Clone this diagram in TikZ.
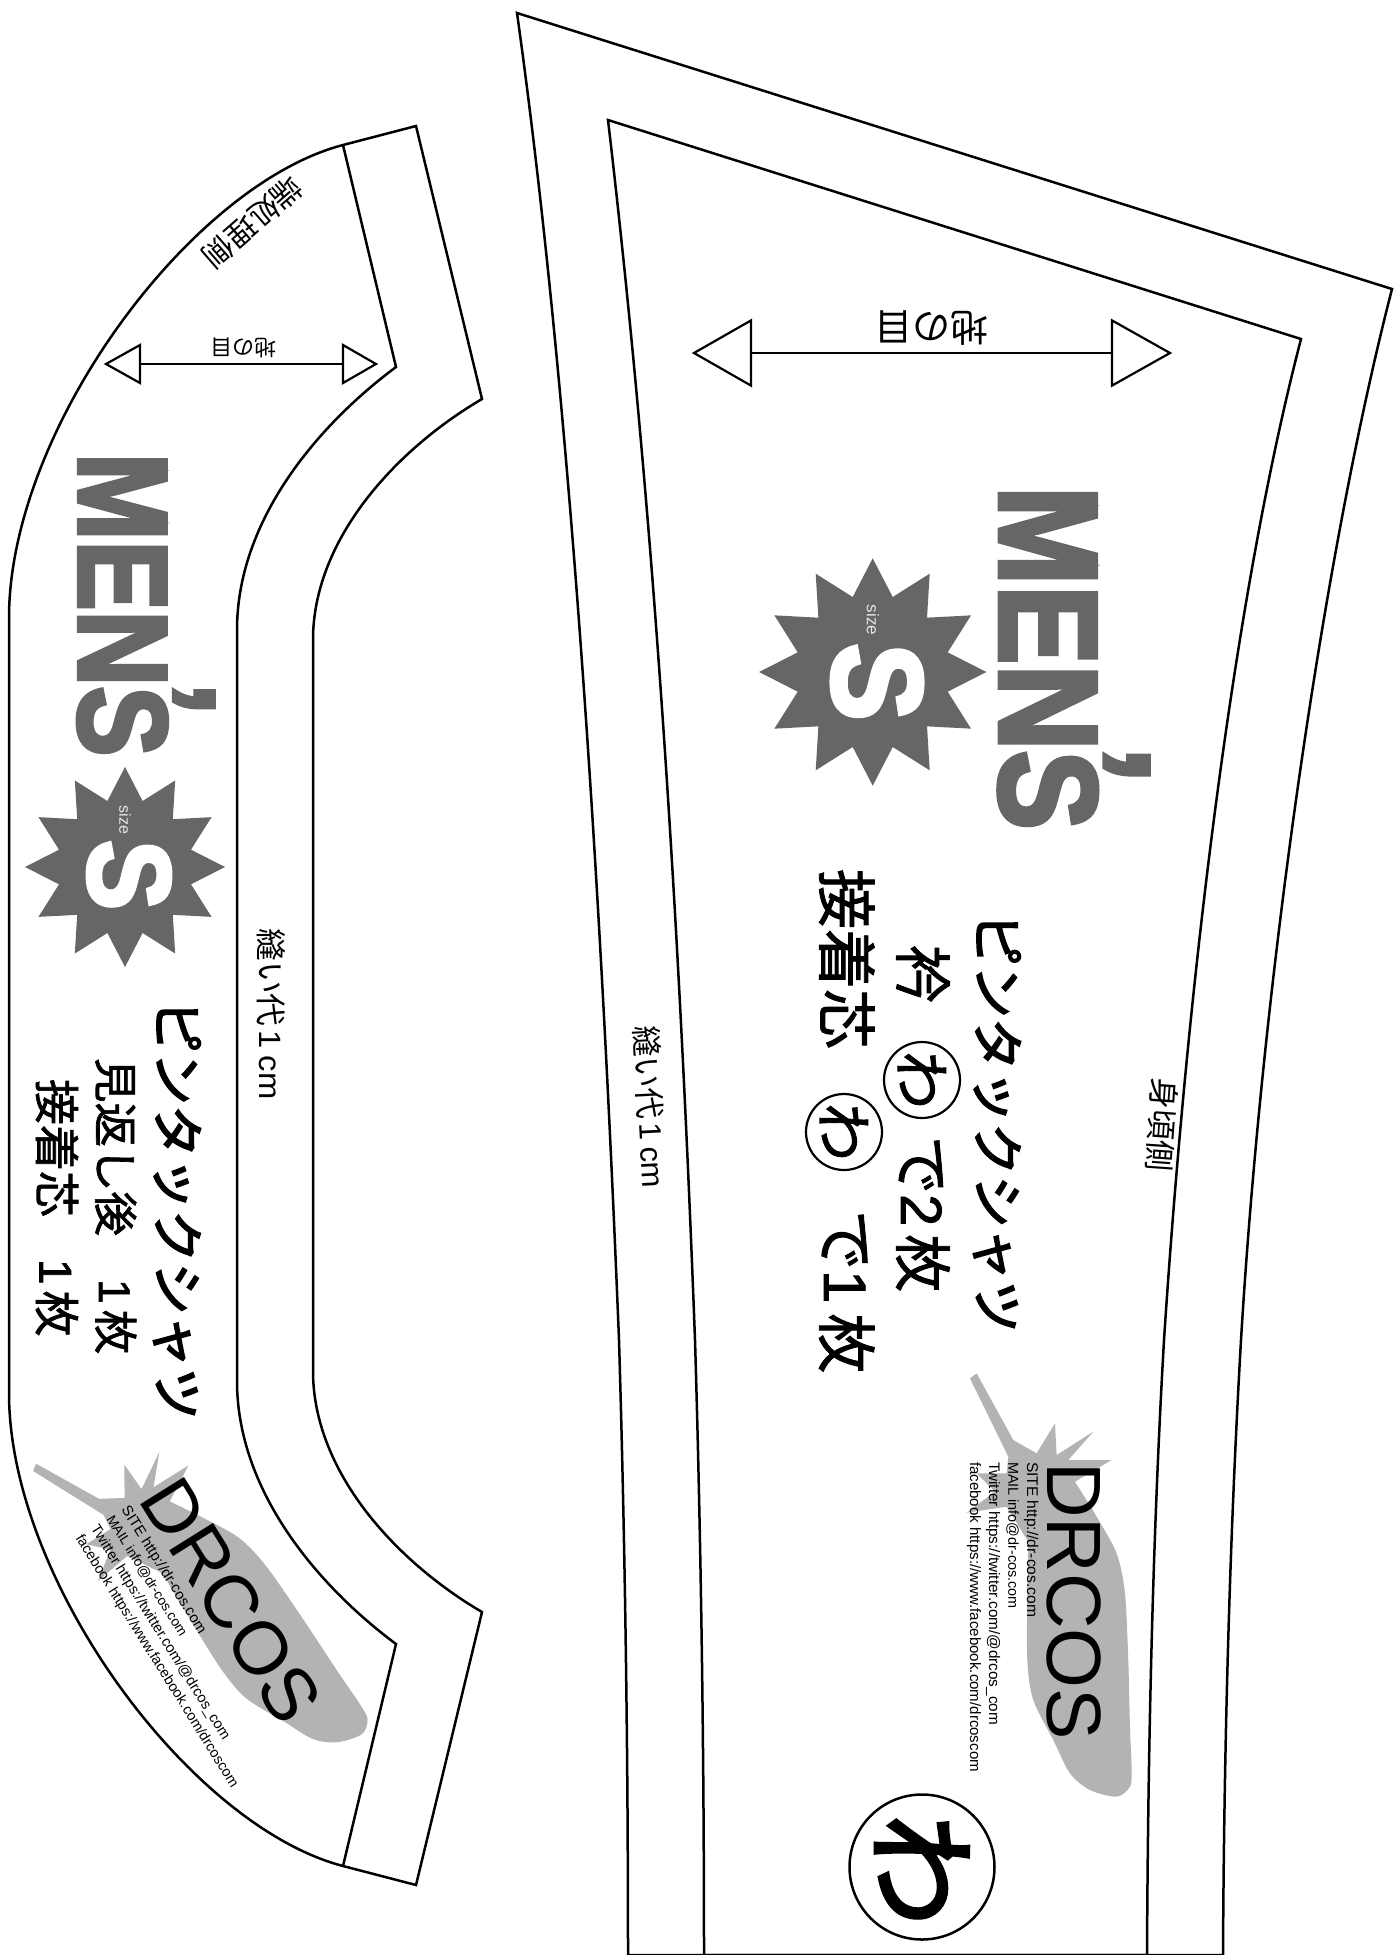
\documentclass[tikz,border=0pt]{standalone}
\usepackage{fontspec}
\setmainfont{Liberation Sans}
\newfontfamily\jp{Noto Sans CJK JP}
\newfontfamily\jpm{Noto Sans CJK JP}[FakeBold=1.5]
\newfontfamily\jpk{Noto Sans CJK JP}[FakeBold=3]
\newfontfamily\lat{Liberation Sans}
\newfontfamily\latm{Liberation Sans}[FakeBold=1.5]
\newfontfamily\heavyf{Liberation Sans}[BoldFeatures={FakeBold=3.5}]
\newcommand\fs[1]{\fontsize{#1pt}{#1pt}\selectfont}
\newcommand\mensword[2]{\scalebox{#1}[#2]{\heavyf\bfseries\fs{100}MEN\rlap{\kern-3pt\raisebox{31pt}{\scalebox{1.1}{’}}}S}}
\newcommand\bigS[2]{\scalebox{#1}[#2]{\heavyf\bfseries\fs{100}S}}
\newcommand\burst{(0,-341) -- (60,-225) -- (171,-295) -- (163,-163) -- (295,-170) -- (225,-59) -- (341,0) -- (225,59) -- (295,170) -- (163,163) -- (171,295) -- (60,225) -- (0,341) -- (-60,225) -- (-171,295) -- (-163,163) -- (-295,170) -- (-225,59) -- (-341,0) -- (-225,-59) -- (-295,-170) -- (-163,-163) -- (-171,-295) -- (-60,-225) -- cycle}
\tikzset{
  cutline/.style={line width=2.5pt,line join=miter,miter limit=10},
  thinmark/.style={line width=2.2pt,line join=miter,fill=white},
  txt/.style={inner sep=0pt,outer sep=0pt,text=black},
  down/.style={txt,rotate=-90,anchor=base west},
  mid/.style={txt,anchor=center},
  darkfill/.style={fill=dgray,draw=none},
  slugfill/.style={fill=lgray,draw=none},
}
\definecolor{dgray}{HTML}{666666}
\definecolor{lgray}{HTML}{B3B3B3}
\newcommand\drcoslogo[2]{%
\begin{scope}[#1]
  \fill[slugfill,shift={(-33.33,-16.67)},scale=0.3333]
    (90,55) -- (110,40) -- (220,240) -- (290,280) -- (345,190) -- (350,285) -- (460,215) -- (385,300) -- (515,300) -- (405,365)
    -- plot[smooth] coordinates {(405,365) (470,470) (530,580) (555,700) (565,900) (570,1100) (575,1230) (570,1280) (530,1310) (450,1290) (390,1240) (340,1140) (280,1020) (262,900) (262,700) (265,545)}
    -- (200,440) -- (80,458) -- (165,395) -- (110,340) -- (200,340) -- (205,290) -- cycle;
  \node[down] at (73.7,85.3) {\resizebox{#2pt}{!}{\lat\fs{86}DRCOS}};
  \node[down] at (53.7,85.3) {\resizebox{155pt}{!}{\lat\fs{16}SITE http://dr-cos.com}};
  \node[down] at (35,85.3) {\resizebox{147pt}{!}{\lat\fs{16}MAIL info@dr-cos.com}};
  \node[down] at (15.7,85.3) {\resizebox{263pt}{!}{\lat\fs{16}Twitter https://twitter.com/@drcos\_com}};
  \node[down] at (-3.3,85.3) {\resizebox{310pt}{!}{\lat\fs{16}facebook https://www.facebook.com/drcoscom}};
\end{scope}}
\begin{document}
\begin{tikzpicture}[x=1pt,y=-1pt]
\useasboundingbox (0,0) rectangle (1394,1955);
\fill[white] (0,0) rectangle (1394,1955);

% ---------- left piece
\draw[cutline] (343,145) -- (416,126) -- (482,399)
  .. controls (395,450) and (313,540) .. (313,640) -- (313,1371)
  .. controls (313,1471) and (395,1561) .. (482,1612)
  -- (416,1885) -- (343,1866)
  .. controls (190,1826) and (9,1581) .. (9,1393) -- (9,618)
  .. controls (9,430) and (190,185) .. (343,145) -- cycle;
\draw[cutline] (343,145) -- (396,367)
  .. controls (318,425) and (237,520) .. (237,630) -- (237,1381)
  .. controls (237,1491) and (318,1586) .. (396,1644)
  -- (343,1866);

% left grain arrow
\coordinate (la) at (140,364);
\coordinate (lb) at (343,364);
\draw[thinmark] (106,364) -- (140,345) -- (140,383) -- cycle;
\draw[thinmark] (376,364) -- (343,345) -- (343,383) -- cycle;
\draw[line width=2.2pt] (la) -- (lb);
\node[mid,rotate=180] (lgrain) at (243,348) {\jp\fs{22}地の目};
\node[mid,rotate=221] (lside) at (253,222) {\jp\fs{30}端処理側};

% left MEN'S + star
\node[down] (lmens) at (79,453) {\color{dgray}\mensword{1.05}{1.26}};
\fill[darkfill,shift={(125,867)},scale=0.2933] \burst;
\node[mid,rotate=-90,text=white] (lS) at (129,875) {\bigS{1.05}{1.17}};
\node[mid,rotate=-90,text=white!90!black] (lsize) at (125,820) {\lat\fs{16}size};

% left labels
\node[mid,rotate=-90] (lseam) at (271,1014) {\resizebox{171pt}{26pt}{\jp\fs{27}縫い代\hspace{3pt}\lat 1\hspace{6pt}cm}};
\node[down] (ltitle) at (158,1000) {\jpk\fs{52.5}ピンタックシャツ};
\node[down] (lline2) at (99,1058) {\jpm\fs{44.5}見返し後\hspace{43pt}\latm 1\hspace{6pt}\jpm 枚};
\node[down] (lline3) at (39.5,1079) {\jpm\fs{46}接着芯\hspace{42pt}\latm 1\hspace{6pt}\jpm 枚};

\drcoslogo{shift={(35,1468)},rotate=32,scale=0.95,transform shape}{285}

% ---------- right piece
\draw[cutline] (517,13) -- (1392,289)
  .. controls (1322,560) and (1262,990) .. (1241,1340)
  .. controls (1229.5,1540) and (1224,1750) .. (1223,1955)
  -- (628,1955)
  .. controls (628,1750) and (625,1540) .. (619,1340)
  .. controls (603,940) and (573,413) .. (517,13) -- cycle;
\draw[cutline] (608,120) -- (1301,339)
  .. controls (1233,600) and (1187,990) .. (1164,1340)
  .. controls (1152.5,1540) and (1148,1750) .. (1147,1955)
  -- (704,1955)
  .. controls (704,1750) and (701,1540) .. (695,1340)
  .. controls (680,940) and (655,520) .. (608,120) -- cycle;

% right grain arrow
\coordinate (ra) at (751,353);
\coordinate (rb) at (1112,353);
\draw[thinmark] (694,353) -- (751,320.4) -- (751,385.6) -- cycle;
\draw[thinmark] (1170,353) -- (1112,320.4) -- (1112,385.6) -- cycle;
\draw[line width=2.2pt] (ra) -- (rb);
\node[mid,rotate=180] (rgrain) at (931,328) {\jp\fs{38}地の目};

% right MEN'S + star
\node[down] (rmens) at (1000,486) {\color{dgray}\mensword{1.19}{1.39}};
\fill[darkfill,shift={(872.7,672)},scale=0.3333] \burst;
\node[mid,rotate=-90,text=white] (rS) at (877,682) {\bigS{1.16}{1.28}};
\node[mid,rotate=-90,text=white!90!black] (rsize) at (873,620) {\lat\fs{17}size};

% right labels
\node[mid,rotate=-87] (rseam) at (650,1107) {\resizebox{162pt}{26pt}{\jp\fs{27}縫い代\hspace{3pt}\lat 1\hspace{6pt}cm}};
\node[mid,rotate=-94] (rside) at (1162,1125) {\jp\fs{31}身頃側};
\node[down] (rtitle) at (978,913) {\jpk\fs{52.5}ピンタックシャツ};
\node[down] (ra1) at (901,945) {\jpm\fs{58}衿};
\node[draw=black,line width=2.2pt,circle,minimum size=76pt,inner sep=0pt] (rc1) at (922,1080) {};
\node[down] (rw1) at (900,1051) {\jpm\fs{58}わ};
\node[down] (ra2) at (901,1136) {\jpm\fs{58}で\latm 2\hspace{8pt}\jpm 枚};
\node[down] (rb1) at (824,869) {\jpm\fs{60}接着芯};
\node[draw=black,line width=2.2pt,circle,minimum size=76pt,inner sep=0pt] (rc2) at (844,1132) {};
\node[down] (rw2) at (822,1103) {\jpm\fs{58}わ};
\node[down] (rb2) at (824,1210) {\jpm\fs{60}で\latm 1\hspace{10pt}\jpm 枚};
\node[draw=black,line width=2.5pt,circle,minimum size=145pt,inner sep=0pt] (rc3) at (922,1867) {};
\node[mid,rotate=-90] (rw3) at (922,1870) {\jpk\fs{112}わ};

\drcoslogo{shift={(973.3,1376.7)}}{278}
\end{tikzpicture}
\end{document}
